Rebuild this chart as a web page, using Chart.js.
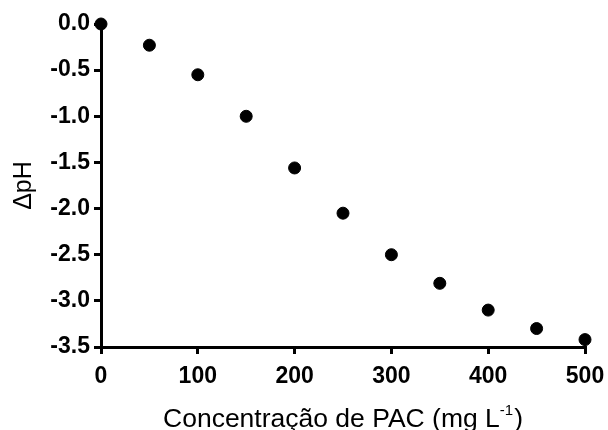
<!DOCTYPE html>
<html>
<head>
<meta charset="utf-8">
<script src="https://cdn.jsdelivr.net/npm/chart.js@4/dist/chart.umd.min.js"></script>
<style>
  html, body { margin: 0; padding: 0; background: #ffffff; }
  canvas { display: block; }
</style>
</head>
<body>
<canvas id="chart" width="608" height="430"></canvas>
<script>
// PAC dose (mg/L) and the resulting pH change
const concentrations = [0, 50, 100, 150, 200, 250, 300, 350, 400, 450, 500];
const deltaPH = [0, -0.23, -0.55, -1.00, -1.56, -2.05, -2.50, -2.81, -3.10, -3.30, -3.42];
const xTicks = [0, 100, 200, 300, 400, 500];
const yTicks = [0.0, -0.5, -1.0, -1.5, -2.0, -2.5, -3.0, -3.5];

const xTitleMain = 'Concentração de PAC (mg L';
const xTitleSup = '-1';
const xTitleEnd = ')';
const yTitle = 'ΔpH';

const FONT = '"Liberation Sans", Arial, Helvetica, sans-serif';

// Axis titles, the x one carrying a superscript unit exponent
const axisTitles = {
  id: 'axisTitles',
  afterDraw(chart) {
    const ctx = chart.ctx;
    const area = chart.chartArea;
    ctx.save();
    ctx.fillStyle = '#000';
    ctx.textBaseline = 'alphabetic';

    const mainFont = '26.5px ' + FONT;
    const supFont = '15px ' + FONT;
    ctx.font = mainFont;
    const wMain = ctx.measureText(xTitleMain).width;
    const wEnd = ctx.measureText(xTitleEnd).width;
    ctx.font = supFont;
    const wSup = ctx.measureText(xTitleSup).width;
    const total = wMain + wSup + wEnd + 1;
    const cx = (area.left + area.right) / 2;
    const baseY = 427;
    let x = cx - total / 2;
    ctx.textAlign = 'left';
    ctx.font = mainFont;
    ctx.fillText(xTitleMain, x, baseY);
    x += wMain;
    ctx.font = supFont;
    ctx.fillText(xTitleSup, x, baseY - 12);
    x += wSup + 1;
    ctx.font = mainFont;
    ctx.fillText(xTitleEnd, x, baseY);

    ctx.translate(31, (area.top + area.bottom) / 2);
    ctx.rotate(-Math.PI / 2);
    ctx.textAlign = 'center';
    ctx.font = '25px ' + FONT;
    ctx.fillText(yTitle, 0, 0);
    ctx.restore();
  }
};

const tickFont = { family: FONT, size: 23, weight: 'bold' };

new Chart(document.getElementById('chart'), {
  type: 'scatter',
  data: {
    datasets: [{
      data: concentrations.map((c, i) => ({ x: c, y: deltaPH[i] })),
      backgroundColor: '#000',
      borderColor: '#000',
      borderWidth: 1,
      pointRadius: 6,
      clip: false
    }]
  },
  options: {
    responsive: false,
    animation: false,
    layout: { padding: { top: 24, right: 23, left: 0, bottom: 0 } },
    plugins: { legend: { display: false }, tooltip: { enabled: false } },
    scales: {
      x: {
        type: 'linear',
        min: 0,
        max: 500,
        afterFit(scale) {
          scale.height = 83;
          scale.paddingLeft = 0;
          scale.paddingRight = 0;
        },
        afterBuildTicks(scale) { scale.ticks = xTicks.map(v => ({ value: v })); },
        ticks: { font: tickFont, color: '#000', padding: 9, maxRotation: 0 },
        grid: { drawOnChartArea: false, drawTicks: true, tickLength: 7, tickWidth: 3, tickColor: '#000', color: '#000', lineWidth: 3 },
        border: { display: true, color: '#000', width: 3 }
      },
      y: {
        type: 'linear',
        min: -3.5,
        max: 0,
        afterFit(scale) {
          scale.width = 101;
          scale.paddingTop = 0;
          scale.paddingBottom = 0;
        },
        afterBuildTicks(scale) { scale.ticks = yTicks.map(v => ({ value: v })); },
        ticks: {
          font: tickFont,
          color: '#000',
          padding: 4,
          callback: v => (Math.abs(v) < 1e-9 ? 0 : v).toFixed(1)
        },
        grid: { drawOnChartArea: false, drawTicks: true, tickLength: 7, tickWidth: 3, tickColor: '#000', color: '#000', lineWidth: 3 },
        border: { display: true, color: '#000', width: 3 }
      }
    }
  },
  plugins: [axisTitles]
});
</script>
</body>
</html>
